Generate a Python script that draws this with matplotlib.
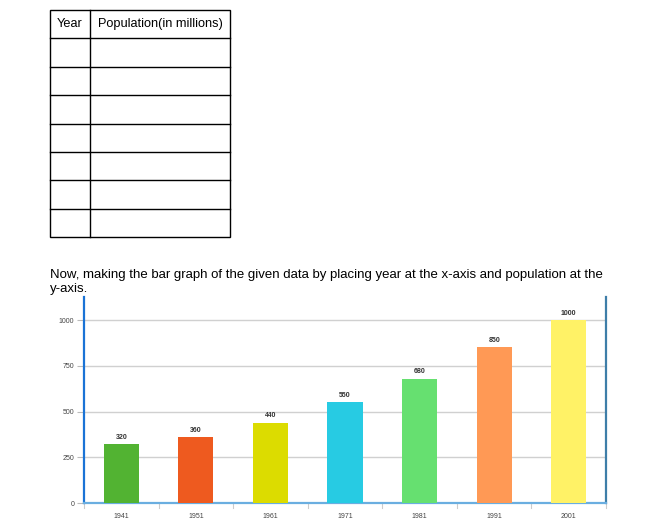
import matplotlib
matplotlib.use("Agg")
import matplotlib.pyplot as plt
from matplotlib.patches import Rectangle
from matplotlib.lines import Line2D

years = ["1941", "1951", "1961", "1971", "1981", "1991", "2001"]
population = [320, 360, 440, 550, 680, 850, 1000]
yticks = [0, 250, 500, 750, 1000]
bar_colors = ["#52b332", "#ee5a1f", "#dcdc00", "#27cbe3", "#66e070", "#ff9955", "#fff266"]
table_header = ["Year", "Population(in millions)"]
caption = "Now, making the bar graph of the given data by placing year at the x-axis and population at the\ny-axis."

W, H = 656, 527
fig = plt.figure(figsize=(W / 100, H / 100), dpi=100)
plt.rcParams['font.family'] = ['Liberation Sans', 'DejaVu Sans']

# --- empty table drawn in figure pixel coords ---
bg = fig.add_axes([0, 0, 1, 1])
bg.set_xlim(0, W)
bg.set_ylim(H, 0)
bg.axis("off")
tx0, tx1, tsplit = 50, 230, 90
ty0, ty1 = 10, 237
nrows = 8
rh = (ty1 - ty0) / nrows
bg.add_patch(Rectangle((tx0, ty0), tx1 - tx0, ty1 - ty0, fill=False, lw=1.0, ec="black"))
for i in range(1, nrows):
    y = ty0 + i * rh
    bg.add_line(Line2D([tx0, tx1], [y, y], lw=1.0, color="black"))
bg.add_line(Line2D([tsplit, tsplit], [ty0, ty1], lw=1.0, color="black"))
bg.text((tx0 + tsplit) / 2, ty0 + rh / 2, table_header[0], ha="center", va="center", fontsize=9.2)
bg.text((tsplit + tx1) / 2, ty0 + rh / 2, table_header[1], ha="center", va="center", fontsize=9.2)

bg.text(50, 269, caption, ha="left", va="top", fontsize=9.5, linespacing=1.2)

# --- bar chart ---
ax_l, ax_r, ax_t, ax_b = 84, 606, 297, 503
ax = fig.add_axes([ax_l / W, 1 - ax_b / H, (ax_r - ax_l) / W, (ax_b - ax_t) / H])
x = list(range(len(years)))
ax.bar(x, population, width=0.47, color=bar_colors, zorder=3)
for xi, v in zip(x, population):
    ax.text(xi, v + 18, str(v), ha="center", va="bottom", fontsize=5, color="#333333", fontweight="bold")
ax.set_xlim(-0.5, len(years) - 0.5)
ax.set_ylim(0, 1126)
ax.set_yticks(yticks)
ax.set_yticklabels([str(t) for t in yticks], fontsize=5, color="#444444")
ax.set_xticks(x)
ax.set_xticklabels(years, fontsize=5, color="#444444")
ax.grid(axis="y", color="#d0d0d0", lw=1.0, zorder=0)
ax.tick_params(axis="y", length=5, color="#bbbbbb", pad=2)
ax.tick_params(axis="x", length=0, pad=7)
# x separator ticks between categories
for b in [i - 0.5 for i in range(len(years) + 1)]:
    ax.plot([b, b], [0, -25], color="#cccccc", lw=0.8, clip_on=False, zorder=1)
ax.spines["left"].set_color("#1a73d6")
ax.spines["left"].set_linewidth(1.6)
ax.spines["right"].set_color("#3e7ea8")
ax.spines["right"].set_linewidth(1.6)
ax.spines["bottom"].set_color("#6aaee0")
ax.spines["bottom"].set_linewidth(1.6)
ax.spines["top"].set_visible(False)

fig.savefig("out.png", dpi=100)
